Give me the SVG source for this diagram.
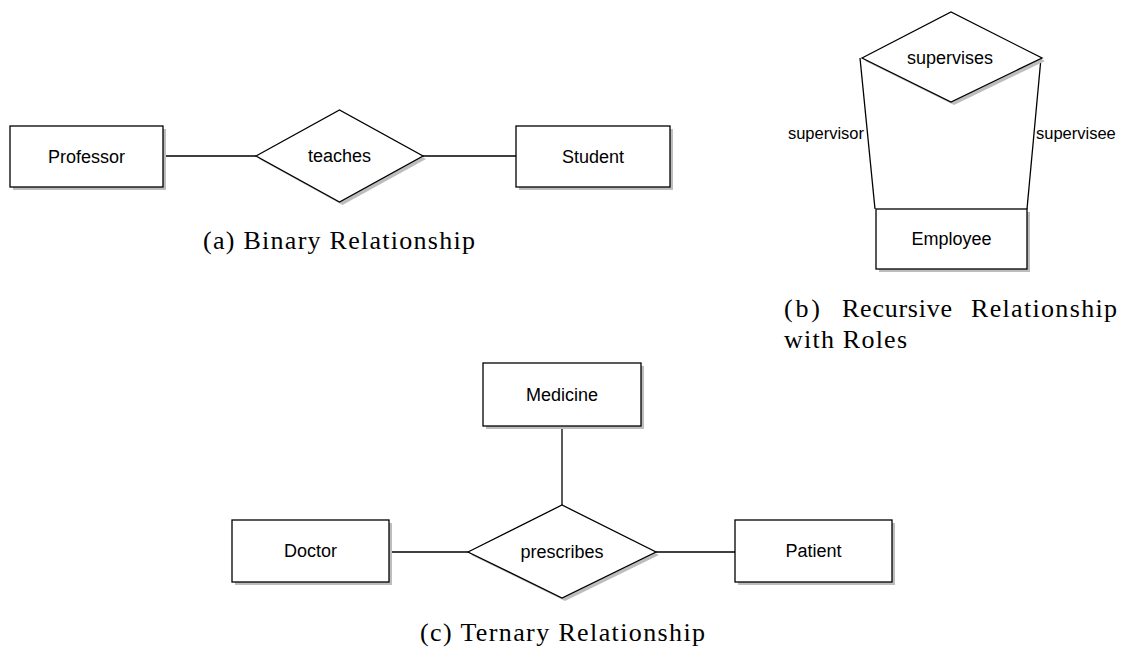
<svg xmlns="http://www.w3.org/2000/svg" width="1124" height="655" viewBox="0 0 1124 655">
<style>
.shape{fill:#fff;stroke:#000;stroke-width:1.3}
.shadow{fill:#bdbdbd;stroke:none}
.lbl{font-family:"Liberation Sans",Arial,sans-serif;font-size:18px;fill:#000;text-anchor:middle;dominant-baseline:central}
.role{font-family:"Liberation Sans",Arial,sans-serif;font-size:16.5px;fill:#000}
.cap{font-family:"Liberation Serif","Times New Roman",serif;font-size:26px;fill:#000}
.conn{stroke:#000;stroke-width:1.3;fill:none}
</style>
<rect width="1124" height="655" fill="#fff"/>
<g id="connectors">
<line class="conn" x1="163" y1="156" x2="256" y2="156"/>
<line class="conn" x1="423" y1="156" x2="516" y2="156"/>
<line class="conn" x1="860" y1="58" x2="875" y2="209"/>
<line class="conn" x1="1041" y1="58" x2="1027" y2="209"/>
<line class="conn" x1="562" y1="426" x2="562" y2="505"/>
<line class="conn" x1="389" y1="552" x2="468" y2="552"/>
<line class="conn" x1="656" y1="552" x2="735" y2="552"/>
</g>
<g id="professor">
<rect class="shadow" x="13" y="129" width="153" height="61"/>
<rect class="shape" x="10" y="126" width="153" height="61"/>
<text class="lbl" x="86.5" y="156.5">Professor</text>
</g>
<g id="teaches">
<polygon class="shadow" points="259,159 342.5,113 426,159 342.5,205"/>
<polygon class="shape" points="256,156 339.5,110 423,156 339.5,202"/>
<text class="lbl" x="339.5" y="156">teaches</text>
</g>
<g id="student">
<rect class="shadow" x="519" y="129" width="154" height="61"/>
<rect class="shape" x="516" y="126" width="154" height="61"/>
<text class="lbl" x="593" y="156.5">Student</text>
</g>
<g id="supervises">
<polygon class="shadow" points="865,61 954,15 1045,61 954,105"/>
<polygon class="shape" points="862,58 951,12 1042,58 951,102"/>
<text class="lbl" x="950" y="58">supervises</text>
</g>
<g id="employee">
<rect class="shadow" x="879" y="212" width="151" height="60"/>
<rect class="shape" x="876" y="209" width="151" height="60"/>
<text class="lbl" x="951.5" y="239">Employee</text>
</g>
<g id="roles">
<text class="role" x="864" y="139" text-anchor="end">supervisor</text>
<text class="role" x="1036" y="139">supervisee</text>
</g>
<g id="medicine">
<rect class="shadow" x="486" y="366" width="158" height="63"/>
<rect class="shape" x="483" y="363" width="158" height="63"/>
<text class="lbl" x="562" y="394.5">Medicine</text>
</g>
<g id="prescribes">
<polygon class="shadow" points="471,555 565,508 659,555 565,601"/>
<polygon class="shape" points="468,552 562,505 656,552 562,598"/>
<text class="lbl" x="562" y="552">prescribes</text>
</g>
<g id="doctor">
<rect class="shadow" x="235" y="523" width="157" height="62"/>
<rect class="shape" x="232" y="520" width="157" height="62"/>
<text class="lbl" x="310.5" y="551">Doctor</text>
</g>
<g id="patient">
<rect class="shadow" x="738" y="523" width="157" height="62"/>
<rect class="shape" x="735" y="520" width="157" height="62"/>
<text class="lbl" x="813.5" y="551">Patient</text>
</g>
<g id="captions">
<text class="cap" x="203" y="249" textLength="272">(a) Binary Relationship</text>
<text class="cap" y="317"><tspan x="784" textLength="36">(b)</tspan><tspan x="842" textLength="110">Recursive</tspan><tspan x="971" textLength="146">Relationship</tspan></text>
<text class="cap" x="784" y="348" textLength="123">with Roles</text>
<text class="cap" x="420" y="641" textLength="285">(c) Ternary Relationship</text>
</g>
</svg>
